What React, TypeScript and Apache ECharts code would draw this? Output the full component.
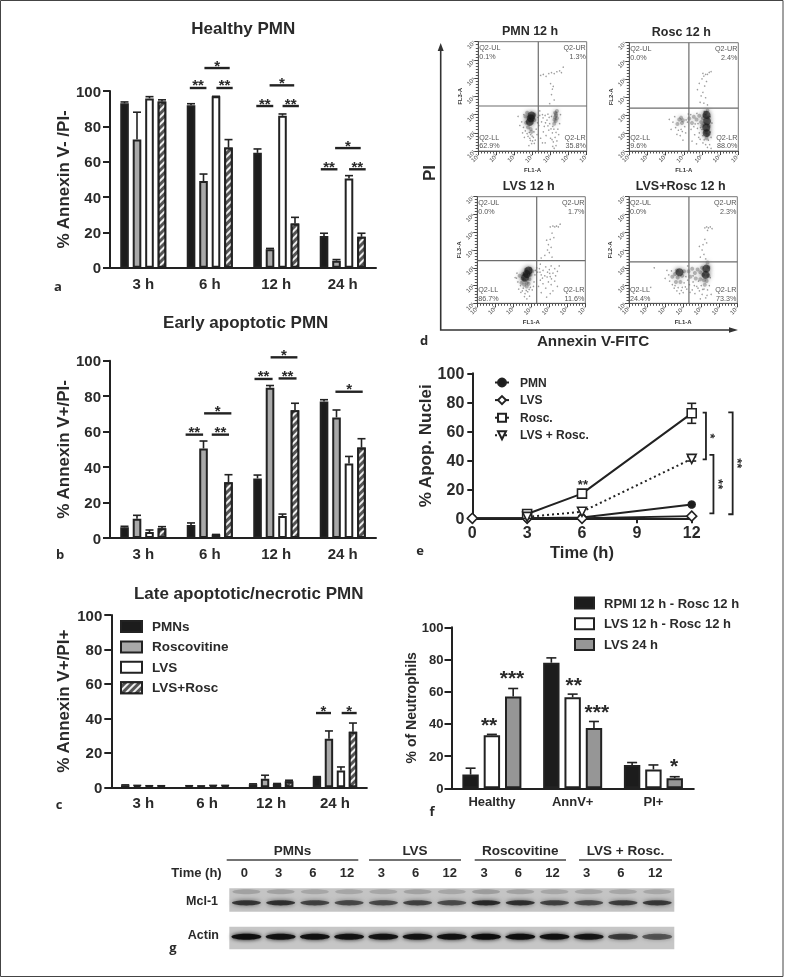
import React, { useEffect, useRef } from "react";
import * as echarts from "echarts";

const FF = '"Liberation Sans", Arial, sans-serif';
const INK = "#2a2a2a";

// ---- bar panels a, b, c
const hours = ["3 h", "6 h", "12 h", "24 h"];
const groupNames = ["PMNs", "Roscovitine", "LVS", "LVS+Rosc"];

const healthyValues = [
  [93, 92, 65, 18],
  [72.5, 49, 10.5, 4],
  [95.8, 97, 86, 50.5],
  [94, 68, 25, 17.5],
];
const healthyErrors = [
  [0.8, 0.8, 2.2, 1.5],
  [15.5, 4, 0.4, 0.6],
  [1, 0, 1, 1.6],
  [1, 4.5, 3.5, 2],
];
const healthySig: [number, number, number, string][] = [
  [0.7, 0.95, 101.7, "**"],
  [1.1, 1.345, 101.7, "**"],
  [0.92, 1.3, 113, "*"],
  [1.7, 1.955, 91.5, "**"],
  [2.095, 2.34, 91.5, "**"],
  [1.9, 2.27, 103.2, "*"],
  [2.67, 2.92, 55.7, "**"],
  [3.095, 3.345, 55.7, "**"],
  [2.885, 3.27, 67.7, "*"],
];

const earlyValues = [
  [6, 7.3, 33.6, 77],
  [10.9, 50.5, 84.8, 68],
  [3.4, 2, 12.4, 42],
  [5.5, 31.4, 72, 51],
];
const earlyErrors = [
  [0.6, 1.2, 1.9, 1],
  [1.9, 4.2, 1.2, 4.2],
  [1.1, 0, 1.1, 4],
  [0.9, 4.3, 4, 5],
];
const earlySig: [number, number, number, string][] = [
  [0.637, 0.9, 58.3, "**"],
  [1.03, 1.29, 58.3, "**"],
  [0.915, 1.325, 70.3, "*"],
  [1.673, 1.945, 89.7, "**"],
  [2.035, 2.305, 90, "**"],
  [1.915, 2.318, 101.9, "*"],
  [2.89, 3.3, 82.5, "*"],
];

const lateValues = [
  [1.2, 0.8, 1.8, 6.2],
  [1, 0.7, 5, 28.2],
  [0.8, 1, 2, 9.7],
  [0.8, 1, 3.5, 32.3],
];
const lateErrors = [
  [0.2, 0.1, 0.2, 0],
  [0.1, 0.1, 2, 4.5],
  [0.1, 0.1, 0.2, 2.1],
  [0.1, 0.1, 0.6, 5],
];
const lateSig: [number, number, number, string][] = [
  [2.703, 2.938, 43.1, "*"],
  [3.105, 3.34, 43.1, "*"],
];

// ---- flow cytometry panel d (log10 FL1, log10 FL3/FL2, density class)
const flowPmn = [
  [3.9, 2.8, 3], [3.95, 2.95, 3], [3.85, 2.6, 3],
  [5.25, 3.1, 2], [5.3, 2.95, 2], [5.35, 2.8, 2], [5.28, 2.65, 2], [5.2, 2.5, 2], [5.35, 3.2, 2], [5.25, 2.85, 2], [5.3, 3.05, 2], [5.22, 2.72, 2],
  [3.6, 2.9, 2], [3.65, 2.55, 2], [3.75, 2.3, 2], [3.9, 2.2, 2], [4.1, 2.7, 2], [4.1, 3.0, 2], [3.7, 3.1, 2], [3.95, 2.05, 2],
  [3.9, 1.9, 1], [3.85, 1.7, 1], [4.0, 1.55, 1], [3.75, 1.8, 1], [3.95, 1.4, 1], [4.05, 1.75, 1], [3.6, 2.1, 1], [3.4, 2.6, 1], [3.3, 2.4, 1], [3.45, 2.0, 1], [3.55, 1.75, 1], [3.2, 2.9, 1], [4.2, 2.2, 1], [4.25, 1.9, 1], [4.15, 1.6, 1],
  [3.82, 2.02, 1], [3.98, 1.82, 1], [3.7, 1.95, 1], [4.08, 2.05, 1], [3.88, 1.58, 1], [3.8, 1.3, 1], [4.1, 1.42, 1], [3.5, 2.3, 1], [3.52, 3.0, 1], [4.28, 2.55, 1], [4.3, 2.85, 1],
  [4.4, 2.95, 1], [4.55, 3.0, 1], [4.7, 2.95, 1], [4.85, 3.02, 1], [4.5, 2.6, 1], [4.65, 2.35, 1], [4.8, 2.7, 1], [4.95, 2.5, 1], [4.6, 2.05, 1], [4.75, 1.85, 1], [4.9, 2.15, 1], [4.45, 1.7, 1], [4.7, 1.45, 1], [5.0, 1.7, 1], [5.1, 2.0, 1], [5.15, 1.5, 1], [5.25, 1.75, 1], [5.4, 2.2, 1], [5.45, 1.9, 1], [5.3, 1.3, 1], [5.5, 2.5, 1], [5.55, 3.0, 1], [5.05, 2.9, 1], [4.35, 2.4, 1], [4.4, 3.2, 1], [5.2, 1.15, 1],
  [5.12, 2.35, 1], [5.02, 2.22, 1], [5.18, 2.2, 1], [5.3, 2.02, 1], [5.08, 1.62, 1], [5.35, 1.55, 1], [4.85, 2.38, 1], [4.72, 2.55, 1], [4.58, 2.82, 1], [4.92, 2.85, 1], [5.12, 1.25, 1], [4.55, 1.45, 1],
  [4.45, 5.15, 1], [4.6, 5.2, 1], [4.75, 5.1, 1], [4.9, 5.25, 1], [5.05, 5.3, 1], [5.2, 5.25, 1], [5.35, 5.35, 1], [5.5, 5.4, 1], [5.6, 5.3, 1], [5.0, 4.7, 1], [5.1, 4.4, 1], [5.05, 4.1, 1], [5.2, 3.8, 1], [4.95, 3.6, 1], [5.15, 4.55, 1], [5.7, 5.6, 1],
];
const flowRosc = [
  [5.25, 3.0, 3], [5.28, 2.65, 3], [5.24, 2.3, 3], [5.26, 2.0, 3],
  [5.15, 2.95, 2], [5.35, 2.85, 2], [5.3, 3.25, 2], [5.2, 3.1, 2], [5.2, 2.05, 2], [5.3, 1.9, 2], [5.12, 2.5, 2], [5.38, 2.4, 2], [5.25, 1.7, 2], [3.75, 2.75, 2], [3.9, 2.55, 2], [3.65, 2.5, 2], [3.85, 2.85, 2], [3.95, 2.7, 2], [4.3, 2.8, 2], [4.55, 2.9, 2], [4.7, 2.75, 2], [4.85, 2.95, 2], [4.95, 2.6, 2], [4.45, 2.55, 2], [5.05, 2.82, 2], [5.02, 2.4, 2],
  [3.4, 2.6, 1], [3.5, 2.9, 1], [3.55, 2.3, 1], [3.7, 2.15, 1], [3.85, 2.2, 1], [4.05, 2.35, 1], [3.8, 1.85, 1], [3.95, 1.6, 1], [4.1, 2.0, 1], [4.2, 2.6, 1], [4.25, 3.05, 1], [4.4, 2.2, 1], [4.55, 2.35, 1], [4.6, 1.9, 1], [4.75, 2.25, 1], [4.85, 2.0, 1], [4.9, 1.65, 1], [5.0, 2.2, 1], [5.05, 1.85, 1], [5.05, 1.45, 1], [5.2, 1.35, 1], [5.3, 1.2, 1], [5.35, 1.6, 1], [5.45, 2.05, 1], [5.45, 2.9, 1], [5.5, 1.75, 1], [5.5, 1.15, 1], [5.55, 2.55, 1], [4.7, 1.4, 1], [4.45, 1.55, 1], [3.2, 2.75, 1], [3.3, 2.2, 1],
  [3.62, 1.92, 1], [3.92, 2.08, 1], [4.12, 2.72, 1], [4.38, 3.02, 1], [4.62, 2.5, 1], [4.78, 2.52, 1], [4.72, 3.08, 1], [4.92, 2.3, 1], [4.82, 1.75, 1], [5.12, 1.62, 1], [5.42, 1.35, 1], [5.12, 3.2, 1],
  [5.0, 5.0, 1], [5.1, 5.15, 1], [5.2, 5.25, 1], [5.3, 5.25, 1], [5.4, 5.35, 1], [5.5, 5.4, 1], [5.05, 5.3, 1], [4.85, 4.75, 1], [4.75, 4.4, 1], [5.15, 4.6, 1], [5.05, 4.25, 1], [4.95, 4.05, 1], [5.2, 3.95, 1], [5.1, 3.65, 1], [5.3, 3.55, 1], [4.9, 3.7, 1], [5.25, 4.85, 1],
];
const flowLvs = [
  [3.75, 2.65, 3], [3.85, 2.85, 3], [3.65, 2.45, 3],
  [3.55, 2.65, 2], [3.6, 2.3, 2], [3.95, 2.95, 2], [3.95, 2.6, 2], [3.7, 2.9, 2], [3.5, 2.4, 2], [3.75, 2.15, 2], [3.9, 2.35, 2], [3.6, 2.05, 2], [3.75, 1.95, 2], [3.35, 2.55, 2], [4.05, 2.8, 2], [3.45, 2.15, 2], [3.85, 2.1, 2],
  [3.2, 2.7, 1], [3.1, 2.45, 1], [3.25, 2.2, 1], [3.4, 2.0, 1], [3.3, 1.8, 1], [3.5, 1.7, 1], [3.65, 1.55, 1], [3.8, 1.65, 1], [3.95, 1.9, 1], [3.9, 1.4, 1], [3.75, 1.25, 1], [4.05, 1.75, 1], [4.15, 2.2, 1], [4.2, 2.6, 1], [4.3, 3.0, 1], [4.35, 2.75, 1], [4.45, 2.95, 1], [4.5, 3.2, 1], [4.55, 2.6, 1], [4.65, 2.85, 1], [4.75, 2.55, 1], [4.8, 3.05, 1], [4.9, 2.75, 1], [5.0, 2.9, 1], [5.05, 2.5, 1], [5.1, 3.1, 1], [5.2, 2.7, 1], [5.3, 2.95, 1], [5.35, 2.55, 1], [5.45, 2.8, 1], [5.55, 3.1, 1], [4.5, 2.3, 1], [4.65, 2.1, 1], [4.8, 1.85, 1], [4.95, 2.2, 1], [5.1, 2.05, 1], [5.2, 1.7, 1], [5.3, 2.25, 1], [4.4, 1.95, 1], [4.55, 1.6, 1], [4.85, 1.35, 1], [5.05, 1.55, 1], [5.45, 1.95, 1],
  [3.55, 1.85, 1], [3.72, 1.72, 1], [3.88, 1.78, 1], [3.62, 1.38, 1], [3.18, 2.42, 1], [3.42, 1.62, 1], [4.12, 1.95, 1], [4.22, 2.85, 1], [4.48, 2.75, 1], [4.62, 2.42, 1], [4.88, 2.48, 1], [5.02, 2.68, 1], [5.12, 2.38, 1],
  [5.05, 5.3, 1], [5.2, 5.35, 1], [5.3, 5.3, 1], [5.4, 5.35, 1], [5.5, 5.3, 1], [5.6, 5.45, 1], [5.15, 4.95, 1], [5.05, 4.6, 1], [4.95, 4.3, 1], [5.1, 4.15, 1], [4.9, 4.0, 1], [5.0, 3.85, 1], [4.75, 3.7, 1], [4.55, 3.55, 1], [5.15, 3.6, 1], [5.25, 4.7, 1], [4.85, 4.55, 1],
];
const flowLvsRosc = [
  [3.8, 2.75, 3], [5.28, 2.95, 3], [5.25, 2.6, 3],
  [3.55, 2.65, 2], [3.65, 2.85, 2], [3.95, 2.55, 2], [4.05, 2.8, 2], [3.7, 2.45, 2], [3.4, 2.5, 2], [4.3, 2.8, 2], [4.5, 2.95, 2], [4.65, 2.7, 2], [4.8, 2.9, 2], [4.95, 2.75, 2], [5.05, 3.0, 2], [5.4, 3.05, 2], [5.35, 3.3, 2], [5.1, 2.6, 2], [5.15, 2.3, 2], [5.3, 2.25, 2], [5.4, 2.55, 2], [4.4, 2.5, 2], [4.7, 2.4, 2], [3.6, 2.2, 2], [3.85, 2.2, 2], [4.95, 2.35, 2], [5.2, 2.05, 2],
  [3.2, 2.6, 1], [3.25, 2.25, 1], [3.4, 2.05, 1], [3.5, 1.85, 1], [3.65, 1.7, 1], [3.8, 1.55, 1], [3.95, 1.9, 1], [4.05, 2.15, 1], [4.0, 1.6, 1], [4.2, 1.8, 1], [4.25, 2.3, 1], [4.35, 2.05, 1], [4.5, 1.75, 1], [4.55, 2.2, 1], [4.65, 1.55, 1], [4.75, 1.95, 1], [4.85, 2.25, 1], [4.9, 1.7, 1], [5.0, 2.0, 1], [5.05, 1.5, 1], [5.15, 1.8, 1], [5.25, 1.3, 1], [5.35, 1.75, 1], [5.45, 2.0, 1], [5.5, 2.45, 1], [5.55, 1.5, 1], [4.95, 1.25, 1], [3.1, 2.85, 1], [3.0, 2.4, 1], [2.4, 3.0, 1], [2.2, 1.9, 1], [4.25, 3.1, 1],
  [3.72, 1.88, 1], [3.55, 2.0, 1], [3.9, 1.72, 1], [4.12, 1.92, 1], [4.38, 1.62, 1], [4.62, 2.0, 1], [4.82, 1.85, 1], [5.08, 1.78, 1], [5.32, 1.45, 1], [3.35, 2.82, 1], [4.15, 2.5, 1], [4.55, 2.55, 1],
  [5.2, 5.25, 1], [5.3, 5.3, 1], [5.4, 5.25, 1], [5.5, 5.3, 1], [5.6, 5.2, 1], [5.35, 5.1, 1], [5.2, 4.6, 1], [5.1, 4.3, 1], [5.05, 4.0, 1], [5.15, 3.75, 1], [4.95, 3.6, 1], [5.25, 3.5, 1], [4.9, 4.2, 1], [5.3, 4.4, 1],
];
const flowTitles = ["PMN 12 h", "Rosc 12 h", "LVS 12 h", "LVS+Rosc 12 h"];
const flowYNames = ["FL3-A", "FL2-A", "FL3-A", "FL2-A"];
const flowGates = [[4.32, 3.47], [4.28, 3.38], [4.3, 3.4], [4.32, 3.33]];
const flowPercents = [
  ["0.1%", "1.3%", "62.9%", "35.8%"],
  ["0.0%", "2.4%", "9.6%", "88.0%"],
  ["0.0%", "1.7%", "86.7%", "11.6%"],
  ["0.0%", "2.3%", "24.4%", "73.3%"],
];
const flowTickLabels = ["10¹", "10²", "10³", "10⁴", "10⁵", "10⁶", "10⁷"];

// ---- time course panel e
const apopHours = [0, 3, 6, 9, 12];
const apopPmn = [[0, 0], [3, 0], [6, 0.5], [12, 9.5]];
const apopLvs = [[0, 0], [3, 0], [6, 0], [12, 1.5]];
const apopRosc = [[3, 3], [6, 17], [12, 72.4]];
const apopLvsRosc = [[3, 1], [6, 4.5], [12, 41]];
const apopErrors = [[12, 65.5, 79.3], [12, 39.5, 42.5]];
const apopBrackets = [
  [12.6, 12.78, 72.9, 40.7, "*"],
  [12.97, 13.19, 43.7, 3.4, "**"],
  [14.0, 14.24, 73.1, 2.8, "**"],
];

// ---- neutrophil bars panel f
const neutCats = ["Healthy", "AnnV+", "PI+"];
const neutNames = ["RPMI 12 h - Rosc 12 h", "LVS 12 h - Rosc 12 h", "LVS 24 h"];
const neutValues = [
  [8.5, 78, 14.5],
  [33, 56.5, 11.7],
  [57, 37.5, 6.3],
];
const neutErrors = [
  [4, 3, 1.5],
  [0.5, 2, 2.8],
  [5, 4, 0.9],
];
const neutStars: [number, number, number, string][] = [
  [-0.035, -0.035, 42, "**"],
  [0.249, 0.249, 71, "***"],
  [1.013, 1.013, 67, "**"],
  [1.3, 1.3, 50, "***"],
  [2.255, 2.255, 16.5, "*"],
];

// ---- blot panel g
const laneTimes = ["0", "3", "6", "12", "3", "6", "12", "3", "6", "12", "3", "6", "12"];
const mclBand = [0.72, 0.75, 0.65, 0.62, 0.62, 0.65, 0.6, 0.78, 0.75, 0.65, 0.62, 0.68, 0.7];
const mclGhost = [0.16, 0.16, 0.14, 0.14, 0.14, 0.16, 0.14, 0.18, 0.16, 0.14, 0.14, 0.14, 0.14];
const actinBand = [0.97, 0.93, 0.93, 0.93, 0.92, 0.92, 0.93, 0.97, 0.97, 0.93, 0.9, 0.68, 0.55];
const blotGroups: [string, number, number][] = [
  ["PMNs", 226.7, 358.3],
  ["LVS", 369, 461],
  ["Roscovitine", 474.7, 566],
  ["LVS + Rosc.", 579, 672],
];

const grids: any[] = [];
const xAxes: any[] = [];
const yAxes: any[] = [];
const series: any[] = [];
const titles: any[] = [];

const STROKE = "#222";
const groupFills = [
  { color: "#1c1c1c" },
  { color: "#a9a9a9" },
  { color: "#ffffff" },
  {
    color: "#555",
    decal: { symbol: "rect", color: "#efefef", dashArrayX: [1, 0], dashArrayY: [2, 2.5], rotation: -Math.PI / 4, symbolSize: 1 },
  },
];
const neutFills = [{ color: "#1c1c1c" }, { color: "#ffffff" }, { color: "#969696" }];

function errorBars(x: number, y: number, values: number[][], errors: number[][], spacing: number, cap: number) {
  const n = values.length;
  const rows: number[][] = [];
  values.forEach((vals, j) => vals.forEach((v, i) => rows.push([i, v, v + errors[j][i], j])));
  return {
    type: "custom",
    xAxisIndex: x,
    yAxisIndex: y,
    silent: true,
    z: 1,
    data: rows,
    encode: { x: 0, y: [1, 2] },
    renderItem: (_: any, api: any) => {
      const a = api.coord([api.value(0), api.value(1)]);
      const b = api.coord([api.value(0), api.value(2)]);
      const xx = a[0] + (api.value(3) - (n - 1) / 2) * spacing;
      const mk = () => ({ stroke: STROKE, lineWidth: 1.6 });
      return {
        type: "group",
        children: [
          { type: "line", shape: { x1: xx, y1: a[1], x2: xx, y2: b[1] }, style: mk() },
          { type: "line", shape: { x1: xx - cap / 2, y1: b[1], x2: xx + cap / 2, y2: b[1] }, style: mk() },
        ],
      };
    },
  };
}

function sigMarks(x: number, y: number, items: [number, number, number, string][], size: number, dy: number) {
  return {
    type: "custom",
    xAxisIndex: x,
    yAxisIndex: y,
    silent: true,
    z: 3,
    data: items.map((s) => [s[0], s[2]]),
    encode: { x: 0, y: 1 },
    renderItem: (p: any, api: any) => {
      const it = items[p.dataIndex];
      const a = api.coord([it[0], it[2]]);
      const b = api.coord([it[1], it[2]]);
      const kids: any[] = [];
      if (it[1] !== it[0]) {
        kids.push({ type: "line", shape: { x1: a[0], y1: a[1], x2: b[0], y2: b[1] }, style: { stroke: STROKE, lineWidth: 2.4 } });
      }
      kids.push({
        type: "text",
        x: (a[0] + b[0]) / 2,
        y: a[1] + dy,
        style: { text: it[3], font: `bold ${size}px ${FF}`, fill: INK, textAlign: "center", textVerticalAlign: "middle" },
      });
      return { type: "group", children: kids };
    },
  };
}

const valueAxis = (grid: number, o: any = {}) => ({
  type: "value",
  gridIndex: grid,
  min: 0,
  max: 100,
  interval: 20,
  axisLine: { show: true, onZero: false, lineStyle: { color: STROKE, width: 2 } },
  axisTick: { show: true, length: 7, lineStyle: { color: STROKE, width: 2 } },
  axisLabel: { color: INK, fontFamily: FF, fontWeight: "bold", fontSize: 15, margin: 9 },
  splitLine: { show: false },
  nameLocation: "middle",
  nameTextStyle: { color: INK, fontFamily: FF, fontWeight: "bold", fontSize: 17 },
  ...o,
});

function barPanel(cfg: any) {
  const g = grids.length;
  grids.push(cfg.grid);
  const xMain = xAxes.length;
  xAxes.push({
    type: "category",
    gridIndex: g,
    data: cfg.cats,
    axisLine: { onZero: false, lineStyle: { color: STROKE, width: 2 } },
    axisTick: { alignWithLabel: true, length: 5, lineStyle: { color: STROKE, width: 2 } },
    axisLabel: { color: INK, fontFamily: FF, fontWeight: "bold", fontSize: cfg.catFont, margin: cfg.catMargin, interval: 0 },
  });
  const xHidden = xAxes.length;
  xAxes.push({ type: "value", gridIndex: g, show: false, min: -0.5, max: cfg.cats.length - 0.5 });
  const yi = yAxes.length;
  yAxes.push(valueAxis(g, { name: cfg.yName, nameGap: cfg.nameGap, ...(cfg.y || {}) }));
  cfg.values.forEach((vals: number[], j: number) => {
    series.push({
      type: "bar",
      name: cfg.names[j],
      xAxisIndex: xMain,
      yAxisIndex: yi,
      data: vals,
      barWidth: cfg.barWidth,
      barGap: cfg.barGap,
      itemStyle: { ...cfg.fills[j], borderColor: STROKE, borderWidth: 2 },
      silent: true,
      z: 2,
    });
  });
  series.push(errorBars(xMain, yi, cfg.values, cfg.errors, cfg.spacing, cfg.cap));
  if (cfg.sig) series.push(sigMarks(xHidden, yi, cfg.sig, cfg.sigFont, cfg.sigDy));
}

const COL_A = { left: 110, width: 266 };
barPanel({
  grid: { ...COL_A, top: 91, height: 176.7 },
  cats: hours, names: groupNames, values: healthyValues, errors: healthyErrors, sig: healthySig,
  fills: groupFills, barWidth: 8.6, barGap: "45%", spacing: 12.5, cap: 8,
  catFont: 15, catMargin: 8, yName: "% Annexin V- /PI-", nameGap: 38, sigFont: 15, sigDy: -3,
});
barPanel({
  grid: { ...COL_A, top: 360.7, height: 177.3 },
  cats: hours, names: groupNames, values: earlyValues, errors: earlyErrors, sig: earlySig,
  fills: groupFills, barWidth: 8.6, barGap: "45%", spacing: 12.5, cap: 8,
  catFont: 15, catMargin: 8, yName: "% Annexin V+/PI-", nameGap: 38, sigFont: 15, sigDy: -3,
});
barPanel({
  grid: { left: 111.3, width: 255.6, top: 615, height: 172.3 },
  cats: hours, names: groupNames, values: lateValues, errors: lateErrors, sig: lateSig,
  fills: groupFills, barWidth: 8.4, barGap: "43%", spacing: 12, cap: 8,
  catFont: 15, catMargin: 8, yName: "% Annexin V+/PI+", nameGap: 39, sigFont: 15, sigDy: -3,
});
barPanel({
  grid: { left: 451.5, width: 242.3, top: 627.3, height: 161 },
  cats: neutCats, names: neutNames, values: neutValues, errors: neutErrors, sig: neutStars,
  fills: neutFills, barWidth: 16.4, barGap: "30%", spacing: 21.3, cap: 10,
  catFont: 13, catMargin: 7, yName: "% of Neutrophils", nameGap: 28, sigFont: 21, sigDy: 4,
  y: { axisLabel: { color: INK, fontFamily: FF, fontWeight: "bold", fontSize: 13, margin: 8 }, nameTextStyle: { color: INK, fontFamily: FF, fontWeight: "bold", fontSize: 14 } },
});

// ---- panel e
{
  const g = grids.length;
  grids.push({ left: 472.3, width: 219.4, top: 373.3, height: 145 });
  const xi = xAxes.length;
  xAxes.push({
    type: "value", gridIndex: g, min: 0, max: 12, interval: 3,
    axisLine: { lineStyle: { color: STROKE, width: 2 } },
    axisTick: { length: 5, lineStyle: { color: STROKE, width: 2 } },
    axisLabel: { color: INK, fontFamily: FF, fontWeight: "bold", fontSize: 16, margin: 6, formatter: (v: number) => (apopHours.includes(v) ? String(v) : "") },
    splitLine: { show: false },
    name: "Time (h)", nameLocation: "middle", nameGap: 25,
    nameTextStyle: { color: INK, fontFamily: FF, fontWeight: "bold", fontSize: 16.5 },
  });
  const yi = yAxes.length;
  yAxes.push(valueAxis(g, {
    name: "% Apop. Nuclei", nameGap: 29,
    axisTick: { show: true, length: 5, lineStyle: { color: STROKE, width: 2 } },
    axisLabel: { color: INK, fontFamily: FF, fontWeight: "bold", fontSize: 16, margin: 8 },
  }));
  const line = (name: string, data: number[][], symbol: string, size: number, fill: string, extra: any = {}) => ({
    type: "line", name, data, xAxisIndex: xi, yAxisIndex: yi, symbol, symbolSize: size, clip: false, silent: true, z: 3,
    lineStyle: { color: STROKE, width: 2, ...(extra.line || {}) },
    itemStyle: { color: fill, borderColor: STROKE, borderWidth: 1.6 },
    ...(extra.rest || {}),
  });
  series.push({
    type: "custom", xAxisIndex: xi, yAxisIndex: yi, silent: true, z: 2,
    data: apopErrors, encode: { x: 0, y: [1, 2] },
    renderItem: (_: any, api: any) => {
      const a = api.coord([api.value(0), api.value(1)]);
      const b = api.coord([api.value(0), api.value(2)]);
      const st = () => ({ stroke: STROKE, lineWidth: 1.6 });
      return {
        type: "group", children: [
          { type: "line", shape: { x1: a[0], y1: a[1], x2: a[0], y2: b[1] }, style: st() },
          { type: "line", shape: { x1: a[0] - 4.5, y1: a[1], x2: a[0] + 4.5, y2: a[1] }, style: st() },
          { type: "line", shape: { x1: a[0] - 4.5, y1: b[1], x2: a[0] + 4.5, y2: b[1] }, style: st() },
        ],
      };
    },
  });
  series.push(line("PMN", apopPmn, "circle", 7, "#1c1c1c"));
  series.push(line("LVS ", apopLvs, "diamond", 10, "#fff"));
  series.push(line("Rosc.", apopRosc, "rect", 9, "#fff"));
  series.push(line("LVS + Rosc.", apopLvsRosc, "triangle", 9, "#fff", { line: { type: [2, 3] }, rest: { symbolRotate: 180 } }));
  series.push({
    type: "custom", xAxisIndex: xi, yAxisIndex: yi, silent: true, z: 4,
    data: apopBrackets.map((b) => [b[0], b[2]]), encode: { x: 0, y: 1 },
    renderItem: (p: any, api: any) => {
      const b = apopBrackets[p.dataIndex] as any[];
      const tl = api.coord([b[0], b[2]]);
      const br = api.coord([b[1], b[3]]);
      return {
        type: "group", children: [
          { type: "polyline", shape: { points: [[tl[0], tl[1]], [br[0], tl[1]], [br[0], br[1]], [tl[0], br[1]]] }, style: { stroke: STROKE, lineWidth: 1.8, fill: "none" } },
          {
            type: "text", x: br[0] + 5, y: (tl[1] + br[1]) / 2, rotation: -Math.PI / 2,
            style: { text: b[4], font: `bold 13px ${FF}`, fill: INK, textAlign: "center", textVerticalAlign: "middle" },
          },
        ],
      };
    },
  });
  series.push(sigMarks(xi, yi, [[6.05, 6.05, 25, "**"]], 13, 2.5));
}

// ---- panel d
const flowBoxes = [
  { left: 478.3, width: 108.4, top: 41.7, height: 109.3 },
  { left: 629.3, width: 109, top: 42.7, height: 108.3 },
  { left: 477.3, width: 108, top: 196.7, height: 106.6 },
  { left: 629, width: 108.3, top: 196.7, height: 106.6 },
];
const flowSets = [flowPmn, flowRosc, flowLvs, flowLvsRosc];
flowBoxes.forEach((box, k) => {
  const g = grids.length;
  grids.push({ ...box, show: true, borderColor: "#777", borderWidth: 1, backgroundColor: "#fff" });
  const axisBase = {
    type: "value", gridIndex: g, min: 1, max: 7, interval: 1,
    axisLine: { lineStyle: { color: "#555", width: 1 } },
    axisTick: { length: 4, lineStyle: { color: "#444", width: 1 } },
    minorTick: { show: true, splitNumber: 6, length: 2.5, lineStyle: { color: "#555", width: 1 } },
    splitLine: { show: false },
    axisLabel: { color: "#444", fontFamily: FF, fontSize: 6, rotate: 45, margin: 4, formatter: (v: number) => flowTickLabels[v - 1] },
    name: "", nameLocation: "middle",
    nameTextStyle: { color: "#333", fontFamily: FF, fontSize: 6, fontWeight: "bold" },
  };
  const xi = xAxes.length;
  xAxes.push({ ...axisBase, name: "FL1-A", nameGap: 14 });
  const yi = yAxes.length;
  yAxes.push({ ...axisBase, name: flowYNames[k], nameGap: 15 });
  const pts = flowSets[k];
  series.push({
    type: "scatter", xAxisIndex: xi, yAxisIndex: yi, silent: true, z: 2,
    data: pts.filter((p) => p[2] === 1),
    symbolSize: 1.5,
    itemStyle: { color: "rgba(50,50,50,0.6)" },
  });
  series.push({
    type: "scatter", xAxisIndex: xi, yAxisIndex: yi, silent: true, z: 2,
    data: pts.filter((p) => p[2] === 2),
    symbolSize: 4,
    itemStyle: { color: "rgba(50,50,50,0.4)", shadowBlur: 4, shadowColor: "rgba(50,50,50,0.5)" },
  });
  series.push({
    type: "scatter", xAxisIndex: xi, yAxisIndex: yi, silent: true, z: 2,
    data: pts.filter((p) => p[2] === 3),
    symbolSize: 8,
    itemStyle: { color: "rgba(20,20,20,0.75)", shadowBlur: 5, shadowColor: "rgba(20,20,20,0.8)" },
  });
  series.push({
    type: "custom", xAxisIndex: xi, yAxisIndex: yi, silent: true, z: 3,
    data: [flowGates[k]], encode: { x: 0, y: 1 },
    renderItem: (_: any, api: any) => {
      const gate = api.coord([api.value(0), api.value(1)]);
      const lt = api.coord([1, 7]);
      const rb = api.coord([7, 1]);
      const st = () => ({ stroke: "#6c6c6c", lineWidth: 1.2 });
      const labels = [
        ["Q2-UL", flowPercents[k][0], 1.05, 6.9, "left", "top"],
        ["Q2-UR", flowPercents[k][1], 6.95, 6.9, "right", "top"],
        ["Q2-LL", flowPercents[k][2], 1.05, 1.05, "left", "bottom"],
        ["Q2-LR", flowPercents[k][3], 6.95, 1.05, "right", "bottom"],
      ];
      return {
        type: "group",
        children: [
          { type: "line", shape: { x1: gate[0], y1: lt[1], x2: gate[0], y2: rb[1] }, style: st() },
          { type: "line", shape: { x1: lt[0], y1: gate[1], x2: rb[0], y2: gate[1] }, style: st() },
          ...labels.map((l: any) => {
            const c = api.coord([l[2], l[3]]);
            return {
              type: "text", x: c[0], y: c[1],
              style: { text: `${l[0]}\n${l[1]}`, font: `7.2px ${FF}`, lineHeight: 8.5, fill: "#555", textAlign: l[4], textVerticalAlign: l[5] },
            };
          }),
        ],
      };
    },
  });
  titles.push({
    text: flowTitles[k], left: box.left + box.width / 2 - 2.5, top: box.top - 17, textAlign: "center", padding: 0,
    textStyle: { color: INK, fontFamily: FF, fontWeight: "bold", fontSize: 12.5 },
  });
});

// ---- panel g, blot strips
function blotGrid(top: number, height: number, bg: string) {
  const g = grids.length;
  grids.push({ left: 229.3, width: 445, top, height, show: true, backgroundColor: bg, borderWidth: 0 });
  return g;
}
function bandSeries(x: number, y: number, vals: number[], yPos: number, rx: number, ry: number, blur: number) {
  return {
    type: "custom", xAxisIndex: x, yAxisIndex: y, silent: true, z: 3,
    data: vals.map((d, i) => [i, yPos, d]), encode: { x: 0, y: 1 },
    renderItem: (_: any, api: any) => {
      const c = api.coord([api.value(0), api.value(1)]);
      const d = api.value(2);
      const col = `rgba(15,15,15,${d})`;
      return { type: "ellipse", shape: { cx: c[0], cy: c[1], rx, ry }, style: { fill: col, shadowBlur: blur, shadowColor: col } };
    },
  };
}
{
  const g1 = blotGrid(888.3, 23.4, "#c4c4c4");
  const x1 = xAxes.length;
  xAxes.push({
    type: "category", gridIndex: g1, position: "top", data: laneTimes,
    axisLine: { show: false }, axisTick: { show: false },
    axisLabel: { interval: 0, color: INK, fontFamily: FF, fontWeight: "bold", fontSize: 13, margin: 9, padding: [0, 4, 0, 0] },
  });
  const y1 = yAxes.length;
  yAxes.push({ type: "value", gridIndex: g1, show: false, min: 0, max: 1 });
  series.push(bandSeries(x1, y1, mclGhost, 0.85, 14, 2.5, 3));
  series.push(bandSeries(x1, y1, mclBand, 0.38, 14.5, 2.6, 5));
  const g2 = blotGrid(926.7, 22.6, "#c6c6c6");
  const x2 = xAxes.length;
  xAxes.push({ type: "category", gridIndex: g2, show: false, data: laneTimes });
  const y2 = yAxes.length;
  yAxes.push({ type: "value", gridIndex: g2, show: false, min: 0, max: 1 });
  series.push(bandSeries(x2, y2, actinBand, 0.55, 15, 3, 4));
}

titles.push(
  { text: "Healthy PMN", left: 243.3, top: 20, textAlign: "center", padding: 0, textStyle: { color: INK, fontFamily: FF, fontWeight: "bold", fontSize: 17 } },
  { text: "Early apoptotic PMN", left: 245.7, top: 314, textAlign: "center", padding: 0, textStyle: { color: INK, fontFamily: FF, fontWeight: "bold", fontSize: 17 } },
  { text: "Late apoptotic/necrotic PMN", left: 248.7, top: 585, textAlign: "center", padding: 0, textStyle: { color: INK, fontFamily: FF, fontWeight: "bold", fontSize: 17 } },
);

const label = (text: string, x: number, y: number, font: string, extra: any = {}) => ({
  type: "text", x, y, silent: true, z: 10, ...extra.el,
  style: { text, font, fill: extra.fill || INK, textAlign: extra.align || "center", textVerticalAlign: "middle" },
});
const panelFont = 'bold 13px "Open Sans", sans-serif';
const boldFont = (n: number) => `bold ${n}px ${FF}`;

const graphics: any[] = [
  { type: "rect", silent: true, z: -1, shape: { x: 0.5, y: 0.5, width: 782.5, height: 976 }, style: { fill: "none", stroke: "#444", lineWidth: 1 } },
  label("a", 58, 286, panelFont),
  label("b", 60, 554, panelFont),
  label("c", 59, 804, panelFont),
  label("d", 424, 340, panelFont),
  label("e", 420, 550, panelFont),
  label("f", 432, 811, panelFont),
  label("g", 173, 947, panelFont),
  // flow panel main axes
  { type: "polyline", silent: true, shape: { points: [[440.7, 50], [440.7, 330], [730, 330]] }, style: { stroke: "#333", lineWidth: 1.6, fill: "none" } },
  { type: "polygon", silent: true, shape: { points: [[440.7, 43], [437.7, 51], [443.7, 51]] }, style: { fill: "#333" } },
  { type: "polygon", silent: true, shape: { points: [[738, 330], [729, 327.3], [729, 332.7]] }, style: { fill: "#333" } },
  label("PI", 429, 173, boldFont(17), { el: { rotation: Math.PI / 2 } }),
  label("Annexin V-FITC", 593, 340.7, boldFont(15.2)),
  // blot labels
  label("Time (h)", 221.7, 872.7, boldFont(13), { align: "right" }),
  label("Mcl-1", 218, 901, boldFont(12.5), { align: "right" }),
  label("Actin", 219, 935, boldFont(12.5), { align: "right" }),
  ...blotGroups.flatMap(([name, x0, x1]) => [
    label(name, (x0 + x1) / 2, 850, boldFont(13.5)),
    { type: "line", silent: true, shape: { x1: x0, y1: 860, x2: x1, y2: 860 }, style: { stroke: "#444", lineWidth: 1.4 } },
  ]),
];

const legendText = (size: number, gap: number) => ({
  color: INK, fontFamily: FF, fontWeight: "bold", fontSize: size, padding: [0, 0, 0, gap],
});

const option: any = {
  animation: false,
  backgroundColor: "#fff",
  title: titles,
  grid: grids,
  xAxis: xAxes,
  yAxis: yAxes,
  series,
  legend: [
    {
      data: groupNames, orient: "vertical", left: 120, top: 619.5, padding: 0, icon: "rect",
      itemWidth: 21, itemHeight: 11, itemGap: 6.4, textStyle: legendText(13.5, 5), selectedMode: false,
    },
    {
      data: neutNames, orient: "vertical", left: 574, top: 596.5, padding: 0, icon: "rect",
      itemWidth: 19, itemHeight: 11, itemGap: 7.7, textStyle: legendText(13, 5), selectedMode: false,
    },
    {
      data: ["PMN", "LVS ", "Rosc.", "LVS + Rosc."], orient: "vertical", left: 494, top: 376.5, padding: 0,
      itemWidth: 14, itemHeight: 10, itemGap: 5.6, textStyle: legendText(12, 6), selectedMode: false,
      formatter: (n: string) => n.trim(),
    },
  ],
  graphic: graphics,
};

export default function App() {
  const ref = useRef<HTMLDivElement>(null);
  useEffect(() => {
    const chart = echarts.init(ref.current!, null, { renderer: "svg" });
    chart.setOption(option);
    return () => chart.dispose();
  }, []);
  return <div ref={ref} style={{ position: "absolute", left: 0, top: 0, width: 787, height: 978, background: "#fff", filter: "blur(0.45px)" }} />;
}
